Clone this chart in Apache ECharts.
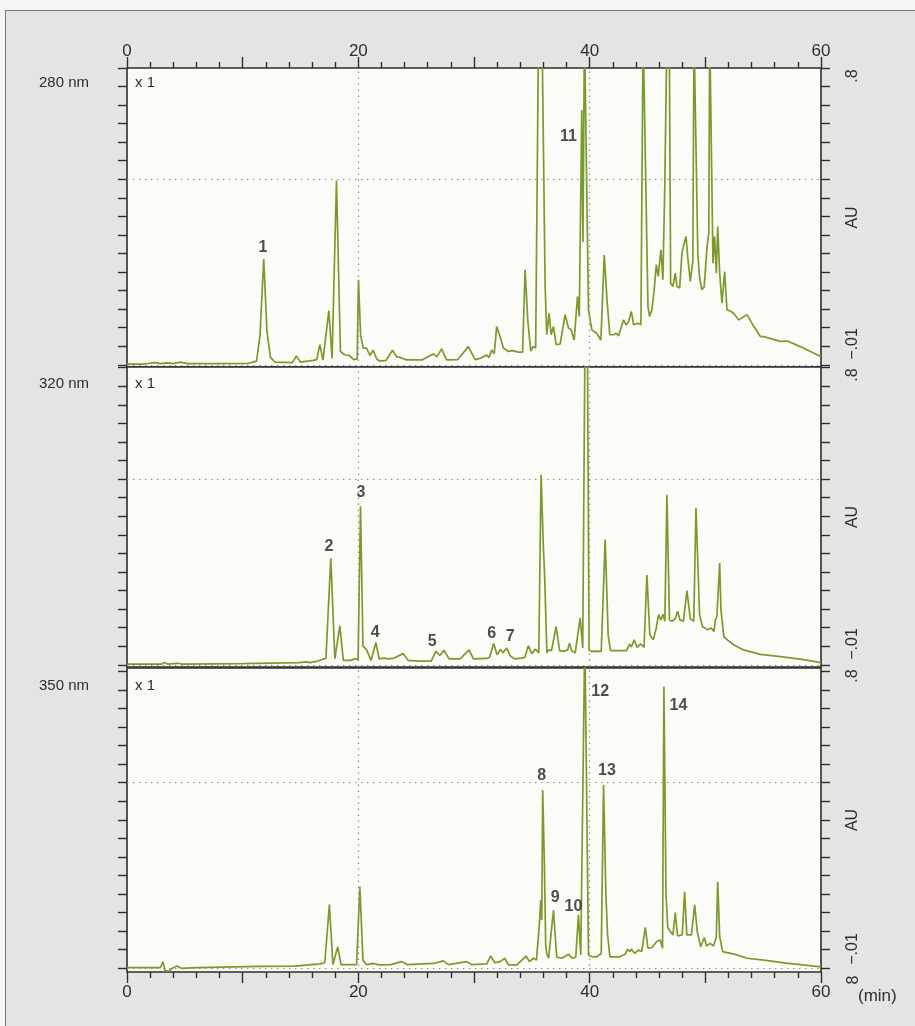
<!DOCTYPE html>
<html>
<head>
<meta charset="utf-8">
<script src="https://cdn.jsdelivr.net/npm/echarts@6/dist/echarts.min.js"></script>
<style>
  html, body { margin: 0; padding: 0; background: #f4f4f2; }
  #frame { position: absolute; left: 5px; top: 10px; width: 915px; height: 1020px; background: #e4e4e2; border-top: 1px solid #777; border-left: 1px solid #777; }
  #main { position: absolute; left: 0; top: 0; width: 915px; height: 1026px; }
</style>
</head>
<body>
<div id="frame"></div>
<div id="main"></div>
<script>
// retention time (min) and absorbance (AU)
var t280 = [
  0, 1.5, 2.4, 2.9, 3.5, 4.0, 4.6, 5.2, 8.0, 10.5,
  11.2, 11.5, 11.82, 12.1, 12.4, 12.8, 14.3, 14.65, 15.0, 16.1,
  16.4, 16.67, 16.95, 17.45, 17.73, 18.11, 18.45, 18.8, 19.2, 19.6,
  19.9, 20.01, 20.2, 20.42, 20.71, 21.0, 21.28, 21.6, 21.86, 22.4,
  22.96, 23.3, 23.6, 24.17, 25.5, 26.48, 26.8, 27.2, 27.63, 28.6,
  29.51, 30.09, 30.6, 31.1, 31.3, 31.53, 31.75, 31.96, 32.25, 32.54,
  32.97, 33.35, 33.84, 34.2, 34.42, 34.65, 34.91, 35.1, 35.33, 35.58,
  35.88, 36.15, 36.29, 36.49, 36.67, 36.87, 37.1, 37.45, 37.88, 38.17,
  38.37, 38.66, 38.95, 39.1, 39.32, 39.42, 39.55, 39.72, 39.9, 40.19,
  40.6, 40.97, 41.26, 41.5, 41.74, 42.09, 42.3, 42.5, 42.93, 43.16,
  43.36, 43.6, 43.8, 44.2, 44.43, 44.62, 44.72, 45.04, 45.18, 45.38,
  45.58, 45.76, 45.93, 46.16, 46.33, 46.5, 46.68, 46.88, 47.0, 47.2,
  47.4, 47.55, 47.78, 47.98, 48.1, 48.33, 48.48, 48.7, 48.92, 49.02,
  49.13, 49.35, 49.5, 49.7, 49.9, 50.15, 50.3, 50.38, 50.52, 50.66,
  50.8, 50.95, 51.07, 51.24, 51.44, 51.67, 51.87, 52.16, 52.45, 52.88,
  53.6, 54.2, 54.76, 55.05, 56.5, 57.1, 58.2, 59.4, 60
]
var au280 = [
  0.002, 0.002, 0.006, 0.003, 0.005, 0.003, 0.007, 0.003, 0.003, 0.004,
  0.010, 0.080, 0.285, 0.090, 0.020, 0.007, 0.006, 0.024, 0.007, 0.012,
  0.014, 0.054, 0.013, 0.146, 0.017, 0.497, 0.036, 0.027, 0.025, 0.014,
  0.016, 0.229, 0.080, 0.045, 0.045, 0.025, 0.039, 0.015, 0.010, 0.012,
  0.039, 0.022, 0.020, 0.013, 0.013, 0.029, 0.022, 0.043, 0.013, 0.014,
  0.049, 0.014, 0.018, 0.026, 0.020, 0.040, 0.030, 0.103, 0.076, 0.045,
  0.036, 0.038, 0.034, 0.034, 0.256, 0.120, 0.037, 0.049, 0.045, 0.9,
  0.9, 0.211, 0.081, 0.139, 0.081, 0.103, 0.054, 0.056, 0.135, 0.099,
  0.096, 0.067, 0.184, 0.130, 0.687, 0.330, 0.9, 0.9, 0.148, 0.094,
  0.085, 0.067, 0.296, 0.175, 0.081, 0.081, 0.085, 0.078, 0.121, 0.107,
  0.116, 0.144, 0.108, 0.112, 0.108, 0.9, 0.9, 0.157, 0.130, 0.148,
  0.202, 0.270, 0.238, 0.310, 0.229, 0.490, 0.9, 0.9, 0.220, 0.211,
  0.247, 0.211, 0.207, 0.301, 0.319, 0.346, 0.290, 0.225, 0.280, 0.9,
  0.9, 0.300, 0.236, 0.202, 0.210, 0.319, 0.355, 0.9, 0.9, 0.274,
  0.346, 0.247, 0.373, 0.247, 0.166, 0.251, 0.148, 0.145, 0.139, 0.121,
  0.135, 0.103, 0.076, 0.076, 0.063, 0.064, 0.049, 0.031, 0.022
]

var t320 = [
  0, 3.0, 3.25, 3.5, 4.4, 4.7, 10, 14.9, 15.5, 15.8,
  16.5, 17.2, 17.62, 17.97, 18.4, 18.7, 19.3, 19.7, 19.98, 20.19,
  20.4, 20.7, 21.1, 21.52, 21.8, 22.2, 22.6, 23.1, 23.88, 24.3,
  25.3, 26.3, 26.71, 27.05, 27.4, 27.85, 28.8, 29.57, 29.95, 31.1,
  31.35, 31.7, 32.0, 32.3, 32.5, 32.83, 33.1, 33.5, 34.1, 34.4,
  34.7, 35.0, 35.3, 35.6, 35.8, 36.0, 36.1, 36.3, 36.43, 36.7,
  37.1, 37.4, 37.75, 38.1, 38.25, 38.45, 38.75, 39.18, 39.4, 39.6,
  39.8, 39.95, 40.2, 40.5, 41.0, 41.34, 41.6, 41.8, 42.4, 43.2,
  43.44, 43.6, 43.85, 44.1, 44.4, 44.7, 44.95, 45.2, 45.5, 45.76,
  45.96, 46.16, 46.35, 46.5, 46.68, 46.9, 47.1, 47.4, 47.6, 47.8,
  48.1, 48.41, 48.7, 49.0, 49.19, 49.5, 49.75, 50.2, 50.5, 50.75,
  50.87, 51.0, 51.24, 51.35, 51.6, 51.9, 52.45, 53.3, 54.76, 56.5,
  58.5, 60
]
var au320 = [
  0.002, 0.002, 0.006, 0.002, 0.004, 0.002, 0.003, 0.006, 0.008, 0.006,
  0.010, 0.018, 0.287, 0.016, 0.105, 0.012, 0.012, 0.016, 0.014, 0.427,
  0.050, 0.041, 0.012, 0.060, 0.016, 0.018, 0.016, 0.018, 0.030, 0.012,
  0.010, 0.010, 0.036, 0.025, 0.039, 0.016, 0.016, 0.040, 0.016, 0.017,
  0.020, 0.057, 0.027, 0.042, 0.032, 0.045, 0.025, 0.016, 0.018, 0.020,
  0.051, 0.030, 0.042, 0.032, 0.512, 0.314, 0.247, 0.032, 0.040, 0.038,
  0.103, 0.038, 0.036, 0.040, 0.058, 0.038, 0.032, 0.126, 0.045, 0.9,
  0.9, 0.040, 0.036, 0.037, 0.036, 0.337, 0.080, 0.038, 0.038, 0.038,
  0.056, 0.048, 0.067, 0.047, 0.056, 0.047, 0.242, 0.081, 0.067, 0.099,
  0.135, 0.121, 0.136, 0.117, 0.458, 0.121, 0.117, 0.124, 0.144, 0.121,
  0.117, 0.200, 0.124, 0.117, 0.422, 0.136, 0.103, 0.094, 0.099, 0.090,
  0.121, 0.130, 0.274, 0.148, 0.076, 0.067, 0.054, 0.040, 0.028, 0.022,
  0.014, 0.006
]

var t350 = [
  0, 2.9, 3.1, 3.3, 3.6, 3.9, 4.31, 4.7, 6, 11.4,
  14.5, 16.7, 17.1, 17.5, 17.8, 18.22, 18.5, 19.5, 19.85, 20.13,
  20.4, 20.7, 21.3, 21.8, 22.8, 23.74, 24.2, 26.5, 27.34, 27.8,
  29.37, 29.8, 31.1, 31.44, 31.8, 32.25, 32.68, 32.97, 33.7, 34.5,
  34.8, 35.14, 35.4, 35.65, 35.77, 35.86, 35.94, 36.08, 36.2, 36.29,
  36.45, 36.87, 37.15, 37.6, 38.17, 38.5, 38.8, 39.03, 39.23, 39.4,
  39.58, 39.75, 39.9, 40.2, 40.6, 41.0, 41.2, 41.4, 41.55, 41.75,
  42.06, 42.6, 43.07, 43.27, 43.5, 43.6, 43.9, 44.2, 44.5, 44.81,
  45.04, 45.4, 45.8, 46.1, 46.3, 46.42, 46.6, 46.75, 46.97, 47.2,
  47.4, 47.6, 48.0, 48.21, 48.4, 48.8, 49.08, 49.3, 49.6, 49.91,
  50.1, 50.4, 50.7, 50.95, 51.07, 51.24, 51.5, 52.2, 52.74, 53.6,
  55.05, 57, 60
]
var au350 = [
  0.002, 0.002, 0.018, -0.006, -0.008, 0.000, 0.006, 0.000, 0.002, 0.005,
  0.006, 0.012, 0.015, 0.172, 0.010, 0.058, 0.010, 0.010, 0.010, 0.220,
  0.022, 0.010, 0.013, 0.009, 0.010, 0.018, 0.010, 0.013, 0.020, 0.010,
  0.018, 0.010, 0.012, 0.033, 0.015, 0.018, 0.027, 0.009, 0.009, 0.033,
  0.018, 0.027, 0.022, 0.117, 0.184, 0.130, 0.480, 0.290, 0.060, 0.040,
  0.027, 0.157, 0.030, 0.027, 0.038, 0.027, 0.030, 0.144, 0.036, 0.040,
  0.9, 0.9, 0.036, 0.031, 0.031, 0.040, 0.494, 0.200, 0.090, 0.031,
  0.031, 0.031, 0.038, 0.051, 0.045, 0.052, 0.040, 0.049, 0.045, 0.110,
  0.054, 0.056, 0.072, 0.076, 0.054, 0.759, 0.200, 0.110, 0.099, 0.090,
  0.150, 0.087, 0.090, 0.206, 0.090, 0.090, 0.171, 0.099, 0.058, 0.083,
  0.060, 0.067, 0.060, 0.083, 0.233, 0.085, 0.045, 0.040, 0.036, 0.027,
  0.022, 0.014, 0.004
]

// numbered peaks: name, time of the label, height of the label (AU)
var names280 = ['1', '11']
var labelT280 = [11.76, 38.16]
var labelAU280 = [0.315, 0.615]
var names320 = ['2', '3', '4', '5', '6', '7']
var labelT320 = [17.45, 20.22, 21.45, 26.39, 31.53, 33.12]
var labelAU320 = [0.317, 0.464, 0.087, 0.063, 0.085, 0.076]
var names350 = ['8', '9', '10', '12', '13', '14']
var labelT350 = [35.86, 37.01, 38.6, 40.91, 41.49, 47.68]
var labelAU350 = [0.518, 0.19, 0.166, 0.745, 0.532, 0.707]

var wavelengths = ['280 nm', '320 nm', '350 nm']
var xLabels = [0, 20, 40, 60]
var yTicks = [0, 0.05, 0.1, 0.15, 0.2, 0.25, 0.3, 0.35, 0.4, 0.45, 0.5, 0.55, 0.6, 0.65, 0.7, 0.75, 0.8]

var traces = [
  { t: t280, au: au280, names: names280, lt: labelT280, la: labelAU280 },
  { t: t320, au: au320, names: names320, lt: labelT320, la: labelAU320 },
  { t: t350, au: au350, names: names350, lt: labelT350, la: labelAU350 }
]
var panels = [
  { top: 68, height: 299, min: -0.006, max: 0.8 },
  { top: 367, height: 300, min: -0.006, max: 0.802 },
  { top: 668, height: 304, min: -0.01, max: 0.809 }
]

var ink = '#2e2e2e'
var font = 'Liberation Sans, Arial, sans-serif'
var tickStyle = { color: ink, width: 1.4 }

var grids = []
var xAxes = []
var yAxes = []
var series = []
var graphics = []

panels.forEach(function (p, i) {
  grids.push({
    left: 127, right: 94, top: p.top, height: p.height,
    show: true, backgroundColor: '#fbfbf8', borderColor: ink, borderWidth: 1.6
  })
  var outer = i !== 1
  xAxes.push({
    gridIndex: i, type: 'value', min: 0, max: 60, interval: 10,
    position: i === 2 ? 'bottom' : 'top',
    axisLine: { show: false, onZero: false },
    axisTick: { show: outer, length: 11, lineStyle: tickStyle },
    minorTick: { show: outer, splitNumber: 5, length: 6, lineStyle: tickStyle },
    axisLabel: {
      show: outer, fontSize: 17, color: ink, fontFamily: font,
      margin: i === 2 ? 12 : 8,
      formatter: function (v) { return xLabels.indexOf(v) >= 0 ? String(v) : '' }
    },
    splitLine: { show: false }
  })
})
panels.forEach(function (p, i) {
  ['left', 'right'].forEach(function (side) {
    yAxes.push({
      gridIndex: i, type: 'value', min: p.min, max: p.max, position: side,
      axisLine: { show: false, onZero: false },
      axisTick: { show: true, customValues: yTicks, length: 9, lineStyle: tickStyle },
      axisLabel: { show: false },
      splitLine: { show: false }
    })
  })
})

traces.forEach(function (tr, i) {
  series.push({
    type: 'line',
    xAxisIndex: i,
    yAxisIndex: i * 2,
    data: tr.t.map(function (t, k) { return [t, tr.au[k]] }),
    showSymbol: false,
    symbol: 'none',
    clip: true,
    lineStyle: { color: '#7c9a2c', width: 1.7 },
    z: 3,
    markLine: {
      silent: true,
      symbol: 'none',
      label: { show: false },
      lineStyle: { type: [1.5, 4.5], color: '#8c8c8c', width: 1.2 },
      data: [{ yAxis: 0 }, { yAxis: 0.5 }, { xAxis: 20 }, { xAxis: 40 }]
    }
  })
  series.push({
    type: 'scatter',
    xAxisIndex: i,
    yAxisIndex: i * 2,
    symbolSize: 0.1,
    itemStyle: { color: 'rgba(0,0,0,0)' },
    z: 4,
    data: tr.names.map(function (n, k) { return { name: n, value: [tr.lt[k], tr.la[k]] } }),
    label: {
      show: true, position: 'inside', formatter: '{b}',
      fontSize: 16, fontWeight: 'bold', color: '#222', fontFamily: font
    }
  })
})

function txt (x, y, s, size, align, rot) {
  return {
    type: 'text', x: x, y: y, rotation: rot || 0, z: 10,
    style: {
      text: s, fill: ink, fontSize: size, fontFamily: font,
      textAlign: align, align: align, textVerticalAlign: 'middle', verticalAlign: 'middle'
    }
  }
}

panels.forEach(function (p, i) {
  var bottom = p.top + p.height
  var labelY = [83, 384, 686][i]
  graphics.push(txt(39, labelY, wavelengths[i], 15, 'left'))
  graphics.push(txt(135, labelY, 'x 1', 15, 'left'))
  graphics.push(txt(853, p.top + 8, '.8', 16, 'center', Math.PI / 2))
  graphics.push(txt(853, p.top + p.height / 2, 'AU', 16, 'center', Math.PI / 2))
  graphics.push(txt(853, bottom - 23, '\u2212.01', 16, 'center', Math.PI / 2))
})
graphics.push(txt(854, 980, '8', 16, 'center', Math.PI / 2))
graphics.push(txt(858, 996, '(min)', 17, 'left'))

var chart = echarts.init(document.getElementById('main'))
chart.setOption({
  animation: false,
  textStyle: { fontFamily: font },
  grid: grids,
  xAxis: xAxes,
  yAxis: yAxes,
  series: series,
  graphic: { elements: graphics }
})
</script>
</body>
</html>
